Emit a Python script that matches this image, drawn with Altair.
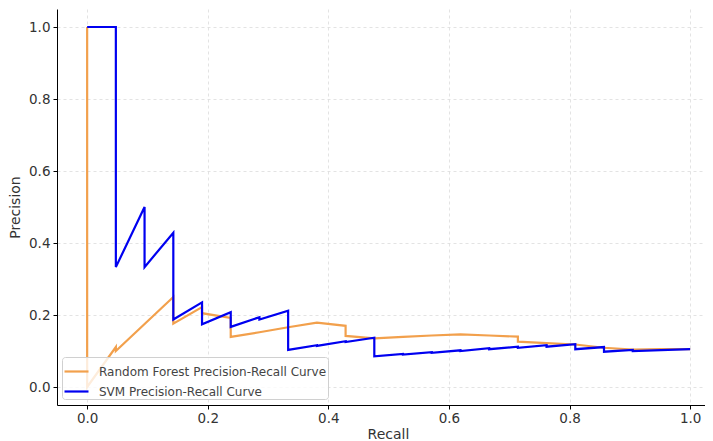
import altair as alt
import pandas as pd

series_names = ["Random Forest Precision-Recall Curve", "SVM Precision-Recall Curve"]
series_colors = ["#f2a04c", "#0000f0"]
tick_values = [0.0, 0.2, 0.4, 0.6, 0.8, 1.0]

rf_recall = [0.0, 0.0, 0.0476, 0.0476, 0.1429, 0.1429, 0.1905, 0.1905, 0.2381, 0.2381,
             0.2857, 0.3333, 0.381, 0.4286, 0.4286, 0.4762, 0.5238, 0.5714, 0.619, 0.6667,
             0.7143, 0.7143, 0.7619, 0.8095, 0.8571, 0.9048, 0.9524, 1.0]
rf_precision = [1.0, 0.0, 0.111, 0.100, 0.250, 0.176, 0.222, 0.205, 0.192, 0.139,
                0.152, 0.166, 0.179, 0.170, 0.142, 0.135, 0.139, 0.143, 0.146, 0.143,
                0.140, 0.126, 0.122, 0.118, 0.109, 0.104, 0.105, 0.105]

svm_recall = [0.0, 0.0476, 0.0476, 0.0952, 0.0952, 0.1429, 0.1429, 0.1905, 0.1905, 0.2381,
              0.2381, 0.2857, 0.2857, 0.3333, 0.3333, 0.381, 0.381, 0.4286, 0.4286, 0.4762,
              0.4762, 0.5238, 0.5238, 0.5714, 0.5714, 0.619, 0.619, 0.6667, 0.6667, 0.7143,
              0.7143, 0.7619, 0.7619, 0.8095, 0.8095, 0.8571, 0.8571, 0.9048, 0.9048, 1.0]
svm_precision = [1.0, 1.0, 0.333, 0.5, 0.333, 0.4286, 0.1875, 0.235, 0.174, 0.208,
                 0.167, 0.194, 0.1875, 0.212, 0.103, 0.116, 0.114, 0.127, 0.125, 0.137,
                 0.085, 0.092, 0.090, 0.097, 0.095, 0.102, 0.100, 0.108, 0.105, 0.112,
                 0.109, 0.116, 0.112, 0.119, 0.105, 0.111, 0.098, 0.103, 0.100, 0.105]

rows = []
for name, rs, ps in ((series_names[0], rf_recall, rf_precision),
                     (series_names[1], svm_recall, svm_precision)):
    for i, (r, p) in enumerate(zip(rs, ps)):
        rows.append({"series": name, "recall": r, "precision": p, "idx": i})
df = pd.DataFrame(rows)

font = "DejaVu Sans"

chart = alt.Chart(df).mark_line(strokeWidth=2.2, strokeJoin="miter").encode(
    x=alt.X("recall:Q",
            scale=alt.Scale(domain=[-0.05, 1.0246], nice=False, zero=False),
            axis=alt.Axis(values=tick_values, format=".1f", title="Recall", titleX=331,
                          titlePadding=3, labelPadding=2)),
    y=alt.Y("precision:Q",
            scale=alt.Scale(domain=[-0.05, 1.05], nice=False, zero=False),
            axis=alt.Axis(values=tick_values, format=".1f", title="Precision",
                          titlePadding=6)),
    color=alt.Color("series:N",
                    scale=alt.Scale(domain=series_names, range=series_colors),
                    legend=alt.Legend(title=None, orient="none", legendX=5, legendY=348,
                                      symbolType="stroke", symbolSize=576,
                                      symbolStrokeWidth=2.2, labelFont=font,
                                      labelFontSize=12, labelColor="#444", labelLimit=0,
                                      labelOffset=9, padding=1, rowPadding=-6,
                                      strokeColor="#d0d0d0", fillColor="rgba(255,255,255,0.8)",
                                      cornerRadius=3)),
    order="idx:Q",
).properties(
    width=648, height=396,
    autosize=alt.AutoSizeParams(type="none"),
    padding={"left": 49, "top": 1, "right": 0, "bottom": 36},
).configure_view(stroke=None).configure_axis(
    labelFont=font, labelFontSize=13.5, labelColor="#333",
    titleFont=font, titleFontSize=14, titleFontWeight="normal", titleColor="#333",
    domainColor="#000", domainWidth=1, tickColor="#000", tickSize=4,
    labelPadding=3, gridColor="#dcdcdc", gridDash=[3, 3], gridWidth=0.8,
)

chart.save("out.html", embed_options={"renderer": "svg", "actions": False})
